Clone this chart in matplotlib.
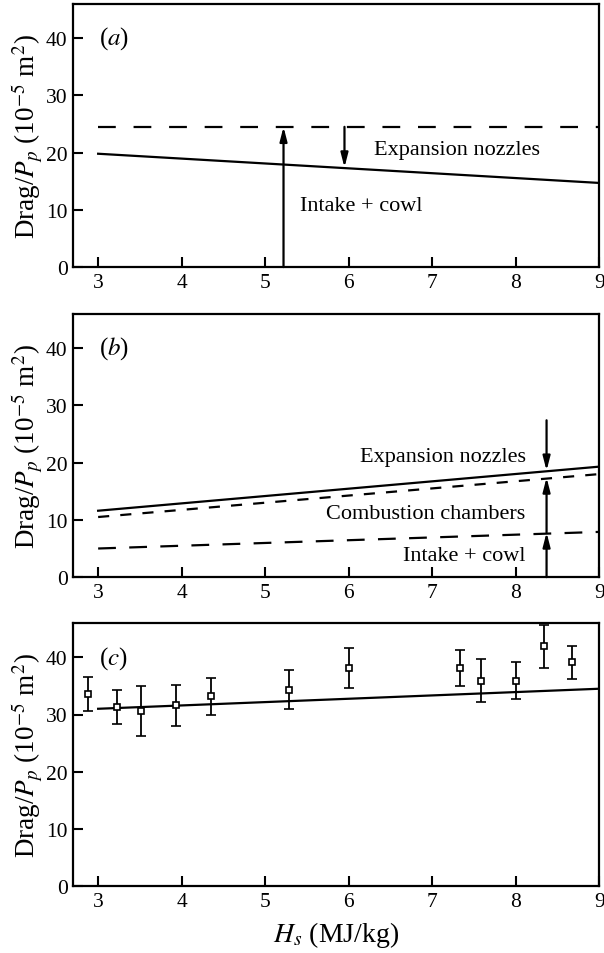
import numpy as np
import matplotlib
matplotlib.use("Agg")
import matplotlib.pyplot as plt

plt.rcParams['font.family'] = ['Liberation Serif', 'DejaVu Serif']
plt.rcParams['mathtext.fontset'] = 'stix'

# =========================
# DATA
# =========================
hs_ends = [3.0, 9.0]

# (a) hypersonic regime
a_total = [24.5, 24.5]        # dashed
a_intake = [19.8, 14.7]       # solid
a_arrow_intake_x = 5.22
a_arrow_nozzle_x = 5.95
a_nozzle_bottom = 17.4

# (b)
b_total = [11.6, 19.3]        # solid
b_comb = [10.5, 18.0]         # short dashed
b_intake = [5.0, 7.9]         # long dashed
b_arrow_x = 8.37
b_nozzle_top = 27.4
b_nozzle_bottom = 18.6
b_comb_top = 17.4
b_intake_top = 7.8

# (c) measurements
c_hs = [2.88, 3.23, 3.51, 3.93, 4.35, 5.29, 6.00, 7.33, 7.59, 8.00, 8.34, 8.67]
c_drag = [33.6, 31.3, 30.6, 31.6, 33.2, 34.3, 38.1, 38.1, 35.9, 35.9, 41.9, 39.1]
c_err = [3.0, 3.0, 4.4, 3.6, 3.2, 3.4, 3.5, 3.2, 3.8, 3.2, 3.8, 2.9]
c_line = [31.0, 34.5]

panel_labels = ['a', 'b', 'c']
xticks = [3, 4, 5, 6, 7, 8, 9]
yticks = [0, 10, 20, 30, 40]

fig = plt.figure(figsize=(6.04, 9.54), dpi=100)
left, width, height = 0.121, 0.871, 0.276
bottoms = [0.719, 0.394, 0.070]
axes = [fig.add_axes([left, b, width, height]) for b in bottoms]

arrow_kw = dict(arrowstyle='-|>,head_width=0.18,head_length=0.7',
                color='black', lw=1.6, shrinkA=0, shrinkB=0, mutation_scale=12)


def arrow(ax, x, y0, y1):
    ax.annotate('', xy=(x, y1), xytext=(x, y0), arrowprops=arrow_kw)


txt = dict(fontsize=16, va='center')

# ---- (a)
ax = axes[0]
ax.plot(hs_ends, a_total, color='black', lw=1.6, ls=(0, (8, 8)))
ax.plot(hs_ends, a_intake, color='black', lw=1.6)
arrow(ax, a_arrow_intake_x, 0, a_total[0])
arrow(ax, a_arrow_nozzle_x, a_total[0], a_nozzle_bottom)
ax.text(6.3, 20.6, 'Expansion nozzles', **txt)
ax.text(5.42, 10.8, 'Intake + cowl', **txt)

# ---- (b)
ax = axes[1]
ax.plot(hs_ends, b_total, color='black', lw=1.6)
ax.plot(hs_ends, b_comb, color='black', lw=1.6, ls=(0, (5, 5)))
ax.plot(hs_ends, b_intake, color='black', lw=1.6, ls=(0, (8, 6)))
arrow(ax, b_arrow_x, b_nozzle_top, b_nozzle_bottom)
arrow(ax, b_arrow_x, b_intake_top, b_comb_top)
arrow(ax, b_arrow_x, 0, b_intake_top)
ax.text(8.12, 21.0, 'Expansion nozzles', ha='right', **txt)
ax.text(8.12, 11.2, 'Combustion chambers', ha='right', **txt)
ax.text(8.12, 3.7, 'Intake + cowl', ha='right', **txt)

# ---- (c)
ax = axes[2]
ax.plot(hs_ends, c_line, color='black', lw=1.6)
ax.errorbar(c_hs, c_drag, yerr=c_err, fmt='s', mfc='white', mec='black',
            ms=5, mew=1.2, ecolor='black', elinewidth=1.3, capsize=3.5,
            capthick=1.3)
ax.set_xlabel('$H_s$ (MJ/kg)', fontsize=20, labelpad=6)

for ax, lab in zip(axes, panel_labels):
    ax.set_xlim(2.7, 9.0)
    ax.set_ylim(0, 46)
    ax.set_xticks(xticks)
    ax.set_yticks(yticks)
    ax.tick_params(direction='in', length=7, width=1.5, labelsize=15.5,
                   top=False, right=False, pad=4)
    for s in ax.spines.values():
        s.set_linewidth(1.6)
    ax.set_ylabel('Drag/$P_p$ (10$^{-5}$ m$^2$)', fontsize=19.5, labelpad=1)
    ax.text(0.05, 0.87, '($\\mathit{' + lab + '}$)', transform=ax.transAxes,
            fontsize=18, va='center')

fig.savefig('out.png', dpi=100)
